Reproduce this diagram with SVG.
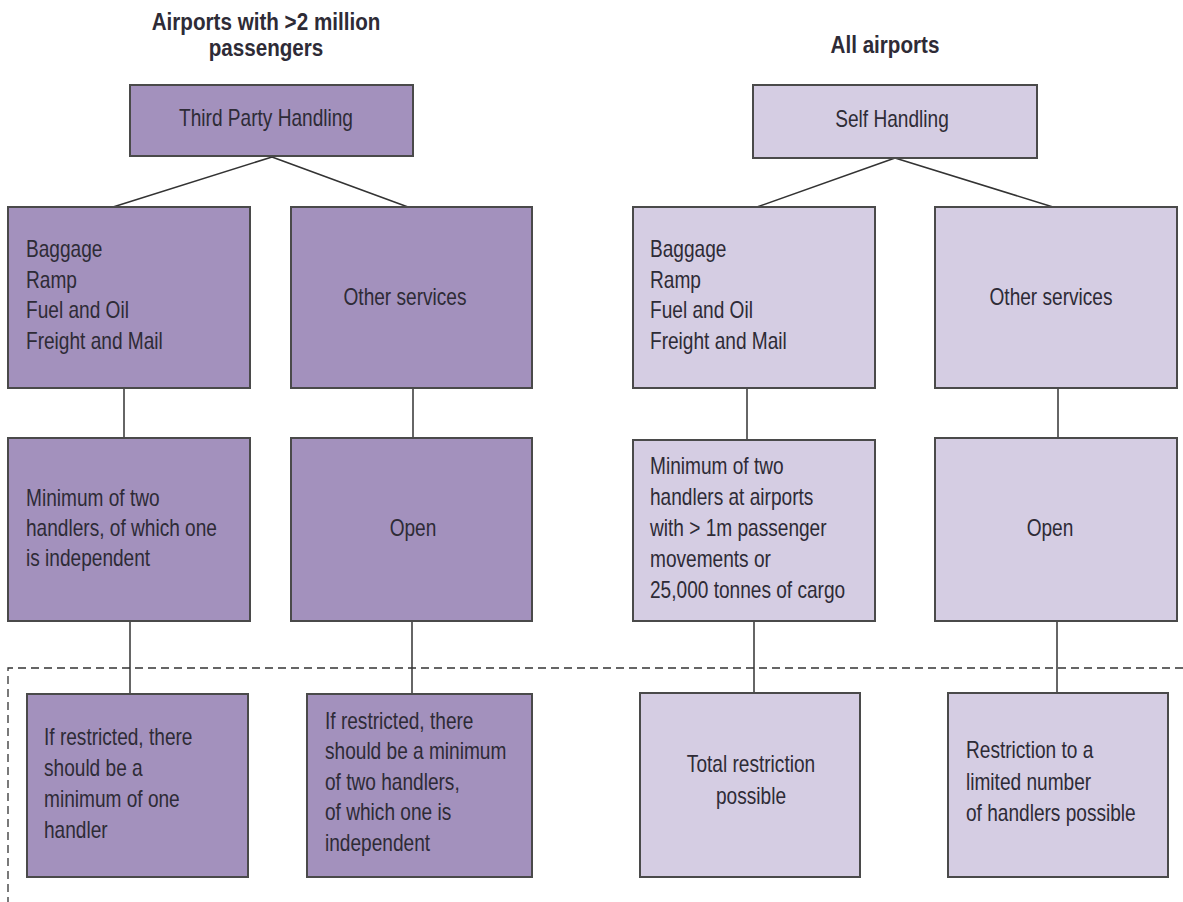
<svg xmlns="http://www.w3.org/2000/svg" width="1183" height="902" viewBox="0 0 1183 902">
<style>
.dark{fill:#a391bd;stroke:#4a4a4a;stroke-width:2}
.light{fill:#d5cde3;stroke:#4a4a4a;stroke-width:2}
text{font-family:"Liberation Sans",Arial,sans-serif;font-size:23px;fill:#2e2b36}
.hd{font-weight:bold;font-size:24px;text-anchor:middle}
.c{text-anchor:middle}
.ln{stroke:#333;stroke-width:1.6;fill:none}
.vl{stroke:#666;stroke-width:2;fill:none}
.dash{stroke:#333;stroke-width:1.3;fill:none;stroke-dasharray:8 5}
</style>
<rect width="1183" height="902" fill="#fff"/>
<g id="headers">
<text class="hd" transform="translate(266 0) scale(0.86 1)" x="0" y="30">Airports with &gt;2 million</text>
<text class="hd" transform="translate(266 0) scale(0.86 1)" x="0" y="56">passengers</text>
<text class="hd" transform="translate(885 0) scale(0.86 1)" x="0" y="53">All airports</text>
</g>
<g id="connectors">
<path class="ln" d="M272 157 L113 207 M272 157 L408 207"/>
<path class="ln" d="M895 158 L757 207 M895 158 L1053 207"/>
<path class="vl" d="M124 388 V438 M413 388 V438 M747 388 V440 M1058 388 V438"/>
<path class="vl" d="M130 621 V694 M412 621 V694 M754 621 V693 M1057 621 V693"/>
</g>
<g id="dashed-region">
<path class="dash" d="M1183 668 H8 V902"/>
</g>
<g id="third-party"><rect class="dark" x="130" y="85" width="283" height="71"/>
<text class="c" transform="translate(266 0) scale(0.83 1)" x="0" y="126">Third Party Handling</text></g>
<g id="self-handling"><rect class="light" x="753" y="85" width="284" height="73"/>
<text class="c" transform="translate(892 0) scale(0.83 1)" x="0" y="127">Self Handling</text></g>
<g id="tp-baggage"><rect class="dark" x="8" y="207" width="242" height="181"/>
<g transform="translate(26 0) scale(0.83 1)"><text x="0" y="257">Baggage</text><text x="0" y="288">Ramp</text><text x="0" y="318">Fuel and Oil</text><text x="0" y="349">Freight and Mail</text></g></g>
<g id="tp-other"><rect class="dark" x="291" y="207" width="241" height="181"/>
<text class="c" transform="translate(405 0) scale(0.83 1)" x="0" y="305">Other services</text></g>
<g id="sh-baggage"><rect class="light" x="633" y="207" width="242" height="181"/>
<g transform="translate(650 0) scale(0.83 1)"><text x="0" y="257">Baggage</text><text x="0" y="288">Ramp</text><text x="0" y="318">Fuel and Oil</text><text x="0" y="349">Freight and Mail</text></g></g>
<g id="sh-other"><rect class="light" x="935" y="207" width="242" height="181"/>
<text class="c" transform="translate(1051 0) scale(0.83 1)" x="0" y="305">Other services</text></g>
<g id="tp-min"><rect class="dark" x="8" y="438" width="242" height="183"/>
<g transform="translate(26 0) scale(0.83 1)"><text x="0" y="506">Minimum of two</text><text x="0" y="536">handlers, of which one</text><text x="0" y="566">is independent</text></g></g>
<g id="tp-open"><rect class="dark" x="291" y="438" width="241" height="183"/>
<text class="c" transform="translate(413 0) scale(0.83 1)" x="0" y="536">Open</text></g>
<g id="sh-min"><rect class="light" x="633" y="440" width="242" height="181"/>
<g transform="translate(650 0) scale(0.83 1)"><text x="0" y="474">Minimum of two</text><text x="0" y="505">handlers at airports</text><text x="0" y="536">with &gt; 1m passenger</text><text x="0" y="567">movements or</text><text x="0" y="598">25,000 tonnes of cargo</text></g></g>
<g id="sh-open"><rect class="light" x="935" y="438" width="242" height="183"/>
<text class="c" transform="translate(1050 0) scale(0.83 1)" x="0" y="536">Open</text></g>
<g id="tp-restr1"><rect class="dark" x="27" y="694" width="221" height="183"/>
<g transform="translate(44 0) scale(0.83 1)"><text x="0" y="745">If restricted, there</text><text x="0" y="776">should be a</text><text x="0" y="807">minimum of one</text><text x="0" y="838">handler</text></g></g>
<g id="tp-restr2"><rect class="dark" x="307" y="694" width="225" height="183"/>
<g transform="translate(325 0) scale(0.83 1)"><text x="0" y="729">If restricted, there</text><text x="0" y="759">should be a minimum</text><text x="0" y="790">of two handlers,</text><text x="0" y="820">of which one is</text><text x="0" y="851">independent</text></g></g>
<g id="sh-restr1"><rect class="light" x="640" y="693" width="220" height="184"/>
<g transform="translate(751 0) scale(0.83 1)"><text class="c" x="0" y="772">Total restriction</text><text class="c" x="0" y="804">possible</text></g></g>
<g id="sh-restr2"><rect class="light" x="948" y="693" width="220" height="184"/>
<g transform="translate(966 0) scale(0.83 1)"><text x="0" y="758">Restriction to a</text><text x="0" y="790">limited number</text><text x="0" y="821">of handlers possible</text></g></g>
</svg>
